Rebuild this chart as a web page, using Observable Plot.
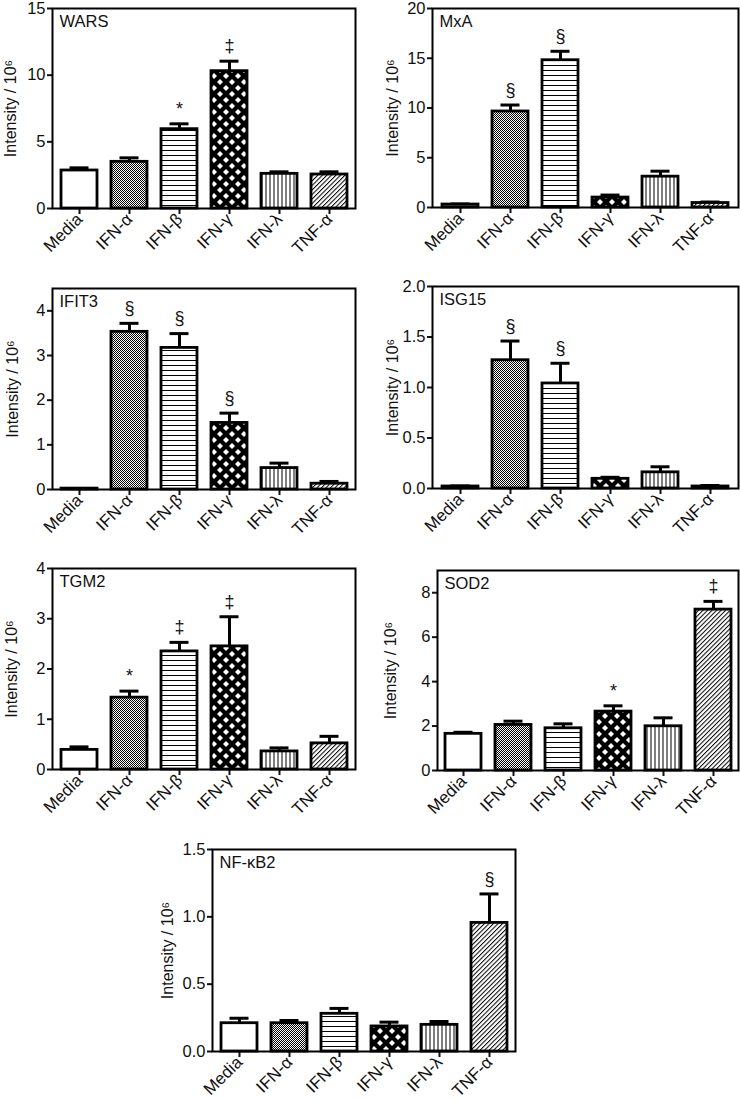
<!DOCTYPE html>
<html><head><meta charset="utf-8">
<script src="https://cdn.jsdelivr.net/npm/d3@7"></script>
<script src="https://cdn.jsdelivr.net/npm/@observablehq/plot@0.6"></script>
<style>
body{margin:0;background:#fff;font-family:"Liberation Sans",Arial,sans-serif;}
#page{position:relative;width:740px;height:1100px;overflow:hidden;}
.panel{position:absolute;}
</style></head><body>
<svg width="0" height="0" style="position:absolute">
<defs>
<pattern id="pat-media" width="4" height="4" patternUnits="userSpaceOnUse"><rect width="4" height="4" fill="#fff"/></pattern>
<pattern id="pat-alpha" width="2" height="2" patternUnits="userSpaceOnUse"><rect width="2" height="2" fill="#fff"/><rect width="1" height="1" fill="#000"/><rect x="1" y="1" width="1" height="1" fill="#000"/></pattern>
<pattern id="pat-beta" width="5" height="5" patternUnits="userSpaceOnUse"><rect width="5" height="5" fill="#fff"/><rect y="2" width="5" height="1" fill="#000"/></pattern>
<pattern id="pat-gamma" width="12" height="12" patternUnits="userSpaceOnUse"><rect width="12" height="12" fill="#000"/><polygon points="6,3 9,6 6,9 3,6" fill="#fff"/><polygon points="0,-3 3,0 0,3 -3,0" fill="#fff"/><polygon points="12,-3 15,0 12,3 9,0" fill="#fff"/><polygon points="0,9 3,12 0,15 -3,12" fill="#fff"/><polygon points="12,9 15,12 12,15 9,12" fill="#fff"/></pattern>
<pattern id="pat-lambda" width="4" height="4" patternUnits="userSpaceOnUse"><rect width="4" height="4" fill="#fff"/><rect x="1.5" width="1" height="4" fill="#000"/></pattern>
<pattern id="pat-tnf" width="3.2" height="3.2" patternUnits="userSpaceOnUse" patternTransform="rotate(45)"><rect width="3.2" height="3.2" fill="#fff"/><rect width="1" height="3.2" fill="#000"/></pattern>
</defs></svg>
<div id="page"></div>
<script>
// ---- data ----
const categories = ["Media", "IFN-α", "IFN-β", "IFN-γ", "IFN-λ", "TNF-α"];
const genes = ["WARS", "MxA", "IFIT3", "ISG15", "TGM2", "SOD2", "NF-κB2"];

const warsMean  = [2.85, 3.5, 5.95, 10.3, 2.6, 2.55];
const warsErr   = [0.2, 0.3, 0.4, 0.75, 0.15, 0.2];
const warsSig   = ["", "", "*", "‡", "", ""];

const mxaMean   = [0.3, 9.65, 14.8, 1.0, 3.1, 0.45];
const mxaErr    = [0.05, 0.65, 0.9, 0.25, 0.55, 0.1];
const mxaSig    = ["", "§", "§", "", "", ""];

const ifit3Mean = [0.02, 3.53, 3.17, 1.49, 0.48, 0.13];
const ifit3Err  = [0.0, 0.19, 0.32, 0.22, 0.11, 0.05];
const ifit3Sig  = ["", "§", "§", "§", "", ""];

const isg15Mean = [0.02, 1.27, 1.04, 0.096, 0.16, 0.02];
const isg15Err  = [0.005, 0.19, 0.2, 0.015, 0.055, 0.01];
const isg15Sig  = ["", "§", "§", "", "", ""];

const tgm2Mean  = [0.39, 1.43, 2.35, 2.45, 0.36, 0.52];
const tgm2Err   = [0.06, 0.13, 0.18, 0.59, 0.07, 0.14];
const tgm2Sig   = ["", "*", "‡", "‡", "", ""];

const sod2Mean  = [1.65, 2.05, 1.9, 2.65, 1.99, 7.24];
const sod2Err   = [0.07, 0.17, 0.2, 0.26, 0.38, 0.37];
const sod2Sig   = ["", "", "", "*", "", "‡"];

const nfkb2Mean = [0.21, 0.21, 0.28, 0.186, 0.198, 0.955];
const nfkb2Err  = [0.037, 0.02, 0.04, 0.032, 0.025, 0.215];
const nfkb2Sig  = ["", "", "", "", "", "§"];

const yMax   = [15, 20, 4.5, 2, 4, 9, 1.5];
const yTicks = [[0, 5, 10, 15], [0, 5, 10, 15, 20], [0, 1, 2, 3, 4], [0, 0.5, 1.0, 1.5, 2.0], [0, 1, 2, 3, 4], [0, 2, 4, 6, 8], [0, 0.5, 1.0, 1.5]];
const yTickFmt = ["d", "d", "d", ".1f", "d", "d", ".1f"];
const yLabel = "Intensity / 10⁶";

const means = [warsMean, mxaMean, ifit3Mean, isg15Mean, tgm2Mean, sod2Mean, nfkb2Mean];
const errs  = [warsErr, mxaErr, ifit3Err, isg15Err, tgm2Err, sod2Err, nfkb2Err];
const sigs  = [warsSig, mxaSig, ifit3Sig, isg15Sig, tgm2Sig, sod2Sig, nfkb2Sig];

// ---- layout / style ----
const patterns = ["url(#pat-media)", "url(#pat-alpha)", "url(#pat-beta)", "url(#pat-gamma)", "url(#pat-lambda)", "url(#pat-tnf)"];
// frame left, top, width, height (page pixels)
const frames = [[52, 8, 303, 200], [432, 8, 306, 199], [52, 288, 303, 201], [432, 286, 306, 202], [52, 568, 303, 201], [437, 570, 301, 200], [212, 849, 303, 202]];
const labelOffsets = [42, 40, 40, 40, 41, 47, 45];
const ML = 60, MT = 10, MR = 6, MB = 70;
const FONT = "'Liberation Sans', Arial, Helvetica, sans-serif";

const page = document.getElementById("page");
genes.forEach((gene, i) => {
  const data = categories.map((c, j) => ({cat: c, mean: means[i][j], err: errs[i][j], sig: sigs[i][j], fill: patterns[j]}));
  const [fl, ft, fw, fh] = frames[i];
  const chart = Plot.plot({
    width: fw + ML + MR, height: fh + MT + MB,
    marginLeft: ML, marginTop: MT, marginRight: MR, marginBottom: MB,
    style: {fontFamily: FONT, fontSize: "16px", color: "#111", background: "transparent", overflow: "visible"},
    x: {domain: categories, paddingInner: 0.29, paddingOuter: 0.15, label: null},
    y: {domain: [0, yMax[i]], label: null},
    color: {type: "identity"},
    marks: [
      Plot.axisY({ticks: yTicks[i], tickFormat: d3.format(yTickFmt[i]), tickSize: 5, tickPadding: 2, strokeWidth: 2, fontSize: 16.5, label: null}),
      Plot.axisX({tickSize: 6, tickPadding: 2, strokeWidth: 2, tickRotate: -45, fontSize: 17, label: null}),
      Plot.text([yLabel], {frameAnchor: "left", textAnchor: "middle", rotate: -90, dx: -labelOffsets[i], fontSize: 16}),
      Plot.ruleX(data, {x: "cat", y1: "mean", y2: d => d.mean + d.err, stroke: "black", strokeWidth: 3}),
      Plot.tickY(data, {x: "cat", y: d => d.mean + d.err, stroke: "black", strokeWidth: 3, insetLeft: 8.5, insetRight: 8.5}),
      Plot.barY(data, {x: "cat", y: "mean", fill: "fill", stroke: "black", strokeWidth: 2.8}),
      Plot.text(data, {x: "cat", y: d => d.mean + d.err, text: "sig", dy: -15, fontSize: 18}),
      Plot.frame({stroke: "black", strokeWidth: 2}),
      Plot.text([gene], {frameAnchor: "top-left", dx: 7, dy: 7, fontSize: 16.5})
    ]
  });
  chart.classList.add("panel");
  chart.style.left = (fl - ML) + "px";
  chart.style.top = (ft - MT) + "px";
  page.appendChild(chart);
});
</script>
</body></html>
